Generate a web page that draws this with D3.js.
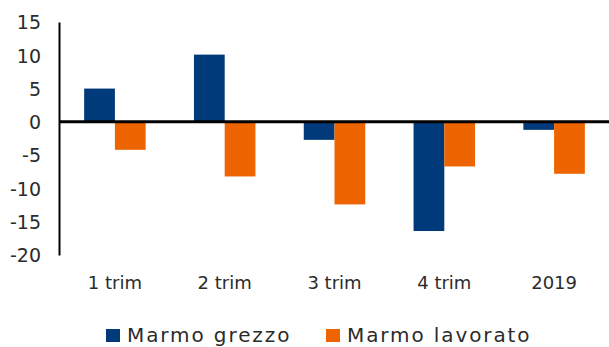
<!DOCTYPE html>
<html>
<head>
<meta charset="utf-8">
<script src="https://cdn.jsdelivr.net/npm/d3@7"></script>
<style>
  html, body { margin: 0; padding: 0; background: #fff; }
  svg { display: block; font-family: "DejaVu Sans", "Liberation Sans", sans-serif; }
</style>
</head>
<body>
<svg id="chart" width="609" height="347"></svg>
<script>
const categories = ["1 trim", "2 trim", "3 trim", "4 trim", "2019"];
const seriesNames = ["Marmo grezzo", "Marmo lavorato"];
const grezzo = [5.0, 10.1, -2.7, -16.4, -1.2];
const lavorato = [-4.2, -8.2, -12.4, -6.7, -7.8];
const yTicks = [15, 10, 5, 0, -5, -10, -15, -20];
const colors = ["#003a7a", "#ee6400"];

const svg = d3.select("#chart");
const margin = { left: 60, right: 0, top: 22, bottom: 92 };
const W = 609, H = 347;
const textColor = "#2b2b2b";

const x0 = d3.scaleBand().domain(categories).range([margin.left, W - margin.right]).paddingInner(0.44).paddingOuter(0.22);
const x1 = d3.scaleBand().domain(seriesNames).range([0, x0.bandwidth()]);
const y = d3.scaleLinear().domain([-20, 15]).range([H - margin.bottom, margin.top]);

const rows = categories.map((c, i) => ({ cat: c, vals: [grezzo[i], lavorato[i]] }));

// Clustered bars
svg.append("g").selectAll("g.grp").data(rows).join("g")
  .attr("transform", d => `translate(${x0(d.cat)},0)`)
  .selectAll("rect").data(d => d.vals.map((v, k) => ({ v, k })))
  .join("rect")
  .attr("x", d => x1(seriesNames[d.k]))
  .attr("width", x1.bandwidth())
  .attr("y", d => y(Math.max(0, d.v)))
  .attr("height", d => Math.abs(y(d.v) - y(0)))
  .attr("fill", d => colors[d.k]);

// Y axis (plain hyphen for negatives)
const yAxis = d3.axisLeft(y).tickValues(yTicks).tickFormat(d => String(d)).tickSize(0).tickPadding(18);
const ya = svg.append("g").attr("transform", `translate(${margin.left - 1},0)`).call(yAxis);
ya.select(".domain").attr("stroke", "#000").attr("stroke-width", 2);
ya.selectAll("text").attr("font-size", 19).attr("fill", textColor)
  .attr("font-family", "DejaVu Sans, sans-serif").attr("dy", "0.36em");

// Zero line
svg.append("line")
  .attr("x1", margin.left - 1).attr("x2", W)
  .attr("y1", y(0)).attr("y2", y(0))
  .attr("stroke", "#000").attr("stroke-width", 3);

// Category labels
svg.append("g").selectAll("text").data(categories).join("text")
  .attr("x", d => x0(d) + x0.bandwidth() / 2)
  .attr("y", 289)
  .attr("text-anchor", "middle")
  .attr("font-size", 18)
  .attr("fill", textColor)
  .text(d => d);

// Legend
const legendX = [106, 326];
const leg = svg.append("g").selectAll("g").data(seriesNames).join("g")
  .attr("transform", (d, i) => `translate(${legendX[i]},328)`);
leg.append("rect").attr("y", 1).attr("width", 14).attr("height", 13).attr("fill", (d, i) => colors[i]);
leg.append("text").attr("x", 21).attr("y", 14).attr("font-size", 20)
  .attr("letter-spacing", 1.9).attr("fill", textColor).text(d => d);
</script>
</body>
</html>
